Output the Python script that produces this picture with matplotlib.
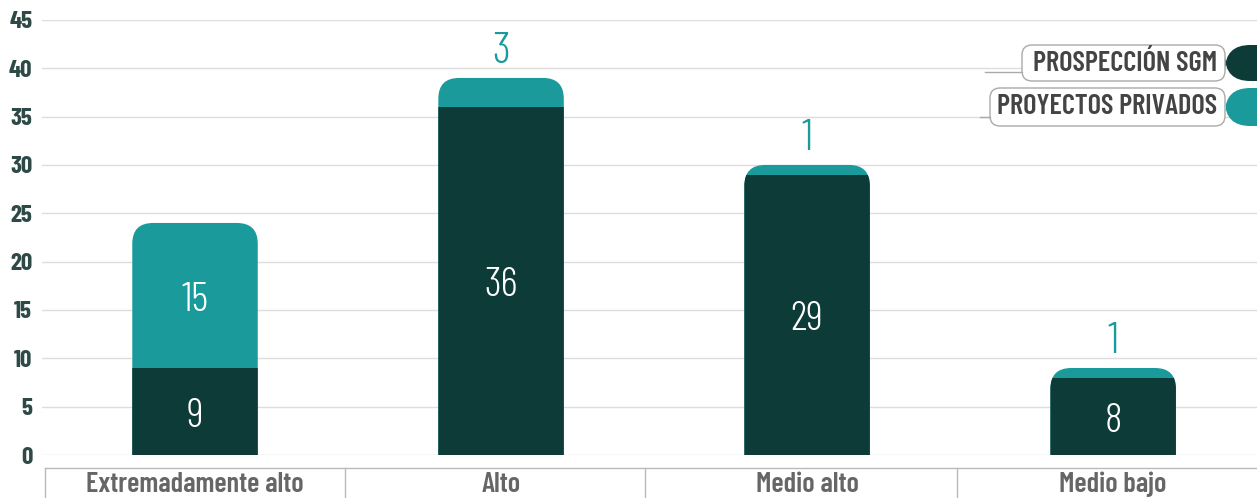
import matplotlib.pyplot as plt
from matplotlib.patches import FancyBboxPatch

categories = ['Extremadamente alto', 'Alto', 'Medio alto', 'Medio bajo']
sgm = [9, 36, 29, 8]
privados = [15, 3, 1, 1]
legend_labels = ['PROSPECCIÓN SGM', 'PROYECTOS PRIVADOS']

dark = '#0d3b38'
teal = '#1a9a9a'

plt.rcParams['font.family'] = ['Barlow Condensed', 'DejaVu Sans']

fig = plt.figure(figsize=(12.57, 4.98), dpi=100)
ax = fig.add_axes([0.0334, 0.0863, 0.9666, 0.8737])
x = list(range(len(categories)))
w = 0.41

ax.set_xlim(-0.5, 3.47)
ax.set_ylim(0, 45)
ax.set_yticks(range(0, 50, 5))
ax.grid(axis='y', color='#dddddd', lw=1)
ax.set_axisbelow(True)
for s in ax.spines.values():
    s.set_visible(False)
ax.tick_params(length=0, labelsize=18, labelcolor='#2e4a47', pad=7)
for t in ax.get_yticklabels():
    t.set_fontweight(700)
ax.set_xticks([])

# rounded outline of the whole stack, dark part clipped into it
fig.canvas.draw()
p0 = ax.transData.transform((0, 0))
p1 = ax.transData.transform((1, 1))
aspect = (p1[0] - p0[0]) / (p1[1] - p0[1])
r = 0.068
for xi, b, h in zip(x, sgm, privados):
    outline = FancyBboxPatch((xi - w / 2, -5), w, b + h + 5,
                             boxstyle='round,pad=0,rounding_size=%f' % r,
                             mutation_aspect=aspect, fc=teal, ec='none', zorder=2)
    ax.add_patch(outline)
    bar = ax.bar(xi, b, width=w, color=dark, zorder=2.5)[0]
    bar.set_clip_path(outline)

for xi, b, h in zip(x, sgm, privados):
    ax.text(xi, b / 2 - 0.5, str(b), color='white', ha='center', va='center',
            fontsize=30, fontweight=300, zorder=3)
    if h > 5:
        ax.text(xi, b + h / 2 - 0.5, str(h), color='white', ha='center',
                va='center', fontsize=30, fontweight=300, zorder=3)
    else:
        ax.text(xi, b + h + 0.6, str(h), color=teal, ha='center', va='bottom',
                fontsize=32, fontweight=300, zorder=3)

# category cells under the axis
tr = ax.get_xaxis_transform()
ytop = -0.03
ax.plot([-0.49, 3.47], [ytop, ytop], transform=tr, color='#bbbbbb', lw=1,
        clip_on=False)
for xv in [-0.49, 0.49, 1.47, 2.49]:
    ax.plot([xv, xv], [ytop, -0.12], transform=tr, color='#bbbbbb', lw=1,
            clip_on=False)
for xi, c in zip(x, categories):
    ax.text(xi, -0.068, c, transform=tr, ha='center', va='center', fontsize=20.5,
            color='#666666', fontweight=600)

# legend tabs
leg = [(1022, 1225, 45, 81, 985, 72, dark), (990, 1225, 88, 126, 980, 117, teal)]
W, H = 1257.0, 498.0
for (x0, x1, y0, y1, lx, ly, col), lab in zip(leg, legend_labels):
    box = FancyBboxPatch((x0 / W, 1 - y1 / H), (x1 - x0) / W, (y1 - y0) / H,
                         boxstyle='round,pad=0,rounding_size=0.008',
                         mutation_aspect=W / H, transform=fig.transFigure,
                         fc='white', ec='#aaaaaa', lw=1)
    fig.patches.append(box)
    fig.add_artist(plt.Line2D([lx / W, x0 / W], [1 - ly / H, 1 - ly / H],
                              color='#aaaaaa', lw=1))
    tab = FancyBboxPatch((x1 / W, 1 - y1 / H), 0.05, (y1 - y0) / H,
                         boxstyle='round,pad=0,rounding_size=0.02',
                         mutation_aspect=W / H, transform=fig.transFigure,
                         fc=col, ec='none')
    fig.patches.append(tab)
    fig.text((x1 - 8) / W, 1 - (y0 + y1) / 2 / H, lab, ha='right', va='center',
             fontsize=20.5, fontweight=600, color='#444444')

fig.savefig('out.png', dpi=100)
